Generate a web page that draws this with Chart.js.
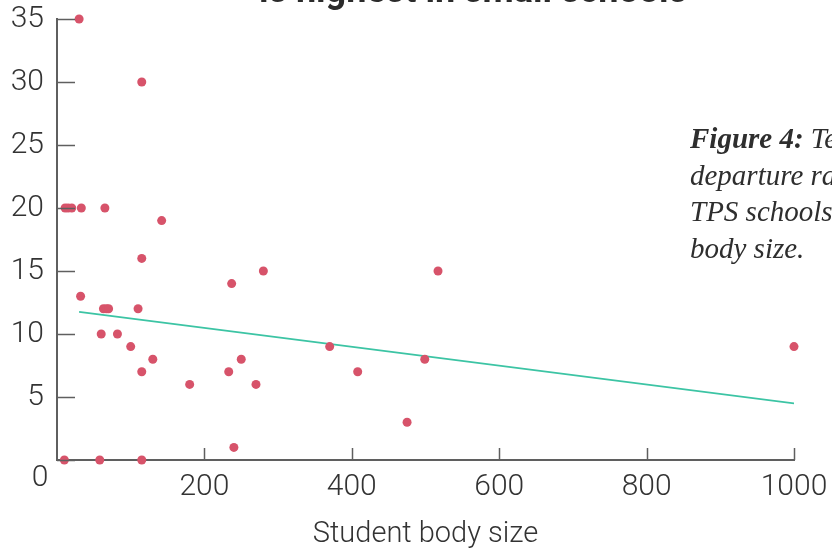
<!DOCTYPE html>
<html lang="en">
<head>
<meta charset="UTF-8">
<title>Teacher departure rate by student body size</title>
<style>
  html, body { margin: 0; padding: 0; background: #fff; overflow: hidden; }
  #wrap { position: absolute; left: 0; top: 0; width: 832px; height: 548px; }
  #title {
    position: absolute; left: 0; width: 946px; top: -70px;
    text-align: center; font: 700 36px Roboto, sans-serif; line-height: 40px; color: #2b2b2b;
    white-space: nowrap;
  }
  #caption {
    position: absolute; left: 690px; top: 120px; width: 320px;
    font: italic 29px "Liberation Serif", serif; line-height: 36.5px; color: #2e2e2e;
    white-space: nowrap;
  }
  #caption b { font-weight: 700; }
</style>
</head>
<body>
<div id="wrap"><canvas id="myChart" width="832" height="548"></canvas></div>
<div id="title">Teacher departure rate<br>is highest in small schools</div>
<div id="caption"><b>Figure 4:</b> Teacher<br>departure rates in<br>TPS schools by student<br>body size.</div>

<script src="https://cdn.jsdelivr.net/npm/chart.js"></script>
<script>
// student body size vs. teacher departure rate (%)
const schoolSize = [30, 115, 11, 15, 20, 33, 65, 142, 115, 237, 280, 517, 32, 63, 67, 70, 110,
                    60, 82, 100, 370, 1000, 130, 250, 499, 115, 233, 408, 180, 270, 475, 240, 10, 58, 115]
const departRate = [35, 30, 20, 20, 20, 20, 20, 19, 16, 14, 15, 15, 13, 12, 12, 12, 12,
                    10, 10, 9, 9, 9, 8, 8, 8, 7, 7, 7, 6, 6, 3, 1, 0, 0, 0]
// fitted trend line end points
const trendX = [30, 1000]
const trendY = [11.75, 4.5]
const xTicks = [0, 200, 400, 600, 800, 1000]
const yTicks = [0, 5, 10, 15, 20, 25, 30, 35]

const axisColor = '#5f5f5f'
const labelFont = { family: 'Roboto', size: 30, weight: 300 }

let pts = []
for (let i = 0; i < schoolSize.length; i++) {
  pts.push({ x: schoolSize[i], y: departRate[i] })
}
let trend = trendX.map((x, i) => ({ x: x, y: trendY[i] }))

// inward tick marks + shared origin label
const innerTicks = {
  id: 'innerTicks',
  afterDraw(chart) {
    const ctx = chart.ctx
    const xs = chart.scales.x, ys = chart.scales.y
    const a = chart.chartArea
    ctx.save()
    ctx.strokeStyle = axisColor
    ctx.lineWidth = 1.5
    ctx.beginPath()
    xTicks.forEach(v => {
      if (v === 0) return
      const px = Math.round(xs.getPixelForValue(v)) + 0.5
      ctx.moveTo(px, a.bottom)
      ctx.lineTo(px, a.bottom - 12)
    })
    yTicks.forEach(v => {
      const py = Math.round(ys.getPixelForValue(v)) + 0.5
      ctx.moveTo(a.left, py)
      ctx.lineTo(a.left + 18, py)
    })
    ctx.stroke()
    ctx.fillStyle = '#333'
    ctx.font = '300 30px Roboto'
    ctx.textAlign = 'center'
    ctx.textBaseline = 'middle'
    ctx.fillText('0', a.left - 17, a.bottom + 18)
    ctx.restore()
  }
}

const ctx = document.getElementById('myChart')
new Chart(ctx, {
  data: {
    datasets: [{
      type: 'scatter',
      data: pts,
      backgroundColor: '#d7536a',
      borderWidth: 0,
      pointRadius: 4.5,
      clip: false,
      order: 0
    }, {
      type: 'line',
      data: trend,
      borderColor: '#3cc4a4',
      borderWidth: 1.8,
      pointRadius: 0,
      fill: false,
      order: 1
    }]
  },
  options: {
    responsive: false,
    animation: false,
    layout: { padding: { top: 19, right: 38, left: 0, bottom: 0 } },
    plugins: { legend: { display: false }, tooltip: { enabled: false } },
    scales: {
      x: {
        type: 'linear',
        min: 0, max: 1000,
        afterBuildTicks: s => { s.ticks = xTicks.map(v => ({ value: v })) },
        afterFit: s => { s.height = 88; s.paddingLeft = 0; s.paddingRight = 0 },
        grid: { display: false, drawTicks: false },
        border: { color: axisColor, width: 2 },
        ticks: {
          padding: 9,
          color: '#333',
          font: labelFont,
          maxRotation: 0,
          callback: v => v === 0 ? '' : v
        },
        title: {
          display: true,
          text: 'Student body size',
          color: '#333',
          font: { family: 'Roboto', size: 29, weight: 300 },
          padding: { top: 0, bottom: -4 }
        }
      },
      y: {
        min: 0, max: 35,
        afterBuildTicks: s => { s.ticks = yTicks.map(v => ({ value: v })) },
        afterFit: s => { s.width = 57; s.paddingTop = 0; s.paddingBottom = 0 },
        grid: { display: false, drawTicks: false },
        border: { color: axisColor, width: 2 },
        ticks: {
          padding: 13,
          color: '#333',
          font: labelFont,
          callback: v => v === 0 ? '' : v
        }
      }
    }
  },
  plugins: [innerTicks]
})
</script>
</body>
</html>
